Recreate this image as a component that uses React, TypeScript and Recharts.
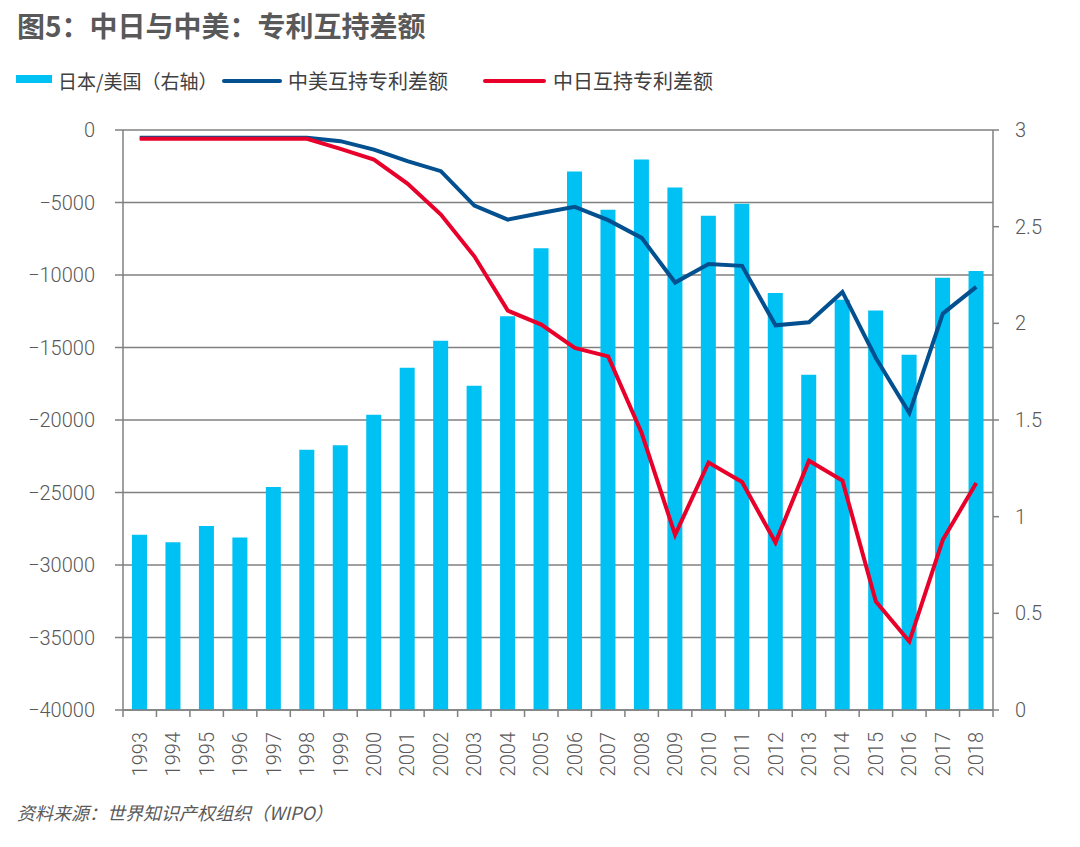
import React from 'react';
import { ComposedChart, Bar, Line, XAxis, YAxis, CartesianGrid } from 'recharts';

const years = ['1993','1994','1995','1996','1997','1998','1999','2000','2001','2002','2003','2004','2005','2006','2007','2008','2009','2010','2011','2012','2013','2014','2015','2016','2017','2018'];
const japanUsRatio = [0.906,0.868,0.952,0.892,1.153,1.346,1.37,1.527,1.77,1.91,1.677,2.036,2.388,2.785,2.588,2.847,2.703,2.557,2.619,2.157,1.734,2.122,2.067,1.837,2.236,2.271];
const chinaUsGap = [-540,-540,-540,-540,-540,-540,-770,-1350,-2150,-2840,-5210,-6180,-5720,-5300,-6220,-7440,-10520,-9235,-9370,-13470,-13260,-11170,-15720,-19520,-12660,-10820];
const chinaJapanGap = [-610,-610,-610,-610,-610,-610,-1300,-2040,-3690,-5830,-8710,-12460,-13420,-15030,-15610,-20900,-27920,-22930,-24280,-28450,-22810,-24170,-32520,-35280,-28260,-24350];
const leftTicks = [0,-5000,-10000,-15000,-20000,-25000,-30000,-35000,-40000];
const rightTicks = [0,0.5,1,1.5,2,2.5,3];

const data = years.map((y, i) => ({ year: y, ratio: japanUsRatio[i], us: chinaUsGap[i], jp: chinaJapanGap[i] }));

const CYAN = '#00C1F3';
const NAVY = '#02508F';
const RED = '#E8002B';
const GRID = '#808080';
const TXT = '#595959';
const NUMFONT = 'Roboto, "Liberation Sans", sans-serif';
const CJK = '"Noto Sans CJK SC", sans-serif';

const CHART_W = 1080;
const LEFT_W = 123;
const RIGHT_W = 60;
const RIGHT_M = 27;
const BAND = (CHART_W - LEFT_W - RIGHT_W - RIGHT_M) / years.length;

const XTick = (props: any) => {
  const { x, y, payload } = props;
  const isLast = payload.value === years[years.length - 1];
  return (
    <g>
      <line x1={x - BAND / 2} x2={x - BAND / 2} y1={y} y2={y + 7} stroke={GRID} strokeWidth={1.5} />
      {isLast && <line x1={x + BAND / 2} x2={x + BAND / 2} y1={y} y2={y + 7} stroke={GRID} strokeWidth={1.5} />}
      <text
        x={0}
        y={0}
        transform={`translate(${x},${y + 22}) rotate(-90)`}
        textAnchor="end"
        dominantBaseline="central"
        fill={TXT}
        fontSize={20}
        fontFamily={NUMFONT}
        fontWeight={300}
      >
        {payload.value}
      </text>
    </g>
  );
};

const fmtLeft = (v: number) => String(v).replace('-', '\u2212');

export default function App() {
  return (
    <div style={{ position: 'absolute', left: 0, top: 0, width: 1080, height: 847, background: '#fff', overflow: 'hidden' }}>
      <div style={{ position: 'absolute', left: 17, top: 11, fontSize: 28, lineHeight: '28px', fontWeight: 700, color: TXT, fontFamily: CJK, whiteSpace: 'nowrap' }}>
        图5：中日与中美：专利互持差额
      </div>
      {/* legend */}
      <div style={{ position: 'absolute', left: 16, top: 75, width: 36, height: 8, background: CYAN }} />
      <div style={{ position: 'absolute', left: 58, top: 71, fontSize: 19, lineHeight: '20px', color: '#404040', fontFamily: CJK, whiteSpace: 'nowrap' }}>
        日本/美国（右轴）
      </div>
      <div style={{ position: 'absolute', left: 222, top: 79, width: 60, height: 4, borderRadius: 2, background: NAVY }} />
      <div style={{ position: 'absolute', left: 288, top: 71, fontSize: 20, lineHeight: '20px', color: '#404040', fontFamily: CJK, whiteSpace: 'nowrap' }}>
        中美互持专利差额
      </div>
      <div style={{ position: 'absolute', left: 483, top: 79, width: 63, height: 4, borderRadius: 2, background: RED }} />
      <div style={{ position: 'absolute', left: 553, top: 71, fontSize: 20, lineHeight: '20px', color: '#404040', fontFamily: CJK, whiteSpace: 'nowrap' }}>
        中日互持专利差额
      </div>

      <div style={{ position: 'absolute', left: 0, top: 0 }}>
        <ComposedChart width={CHART_W} height={800} data={data} margin={{ top: 130, right: RIGHT_M, bottom: 0, left: 0 }}>
          <CartesianGrid yAxisId="left" horizontal={true} vertical={false} stroke={GRID} strokeWidth={1.5} />
          <XAxis
            dataKey="year"
            interval={0}
            height={90}
            tickLine={false}
            tickSize={0}
            tickMargin={0}
            axisLine={{ stroke: GRID, strokeWidth: 1.5 }}
            tick={<XTick />}
          />
          <YAxis
            yAxisId="left"
            orientation="left"
            width={LEFT_W}
            domain={[-40000, 0]}
            ticks={leftTicks}
            interval={0}
            tickSize={8}
            tickMargin={20}
            tickFormatter={fmtLeft}
            axisLine={{ stroke: GRID, strokeWidth: 1.5 }}
            tickLine={{ stroke: GRID, strokeWidth: 1.5 }}
            tick={{ fill: TXT, fontSize: 20, fontFamily: NUMFONT, fontWeight: 300 }}
          />
          <YAxis
            yAxisId="right"
            orientation="right"
            width={RIGHT_W}
            domain={[0, 3]}
            ticks={rightTicks}
            interval={0}
            tickSize={6}
            tickMargin={16}
            axisLine={{ stroke: GRID, strokeWidth: 1.5 }}
            tickLine={{ stroke: GRID, strokeWidth: 1.5 }}
            tick={{ fill: TXT, fontSize: 20, fontFamily: NUMFONT, fontWeight: 300 }}
          />
          <Bar yAxisId="right" dataKey="ratio" fill={CYAN} barSize={15} isAnimationActive={false} />
          <Line yAxisId="left" type="linear" dataKey="us" stroke={NAVY} strokeWidth={4} dot={false} activeDot={false} isAnimationActive={false} />
          <Line yAxisId="left" type="linear" dataKey="jp" stroke={RED} strokeWidth={4} dot={false} activeDot={false} isAnimationActive={false} />
        </ComposedChart>
      </div>

      <div style={{ position: 'absolute', left: 17, top: 803, fontSize: 18, lineHeight: '18px', fontStyle: 'italic', color: TXT, fontFamily: CJK, whiteSpace: 'nowrap' }}>
        资料来源：世界知识产权组织（WIPO）
      </div>
    </div>
  );
}
